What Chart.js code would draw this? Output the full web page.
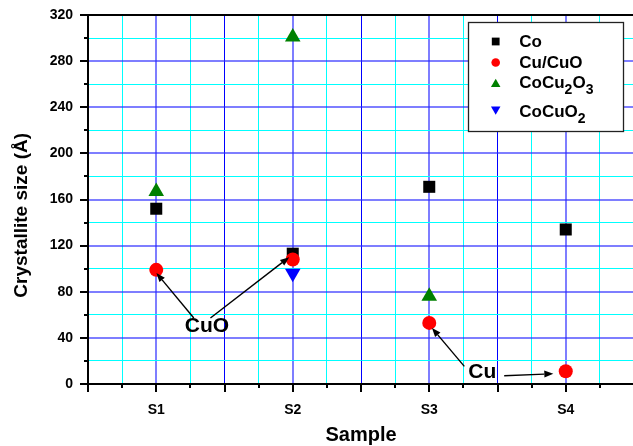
<!DOCTYPE html>
<html>
<head>
<meta charset="utf-8">
<script src="https://cdn.jsdelivr.net/npm/chart.js@4.4.0/dist/chart.umd.min.js"></script>
<style>
  html, body { margin: 0; padding: 0; background: #fff; overflow: hidden; }
  #wrap { width: 633px; height: 446px; overflow: hidden; }
  canvas { display: block; }
</style>
</head>
<body>
<div id="wrap"><canvas id="c" width="643" height="446"></canvas></div>
<script>
// ---- data ----
const samples = ['S1', 'S2', 'S3', 'S4'];
const seriesNames = ['Co', 'Cu/CuO', 'CoCu2O3', 'CoCuO2'];
const coValues      = [152, 113, 171, 134];
const cuCuOValues   = [99, 108, 53, 11];
const coCu2O3Values = [167, 301, 76, null];
const coCuO2Values  = [null, 96, null, null];
const yTickLabels = [0, 40, 80, 120, 160, 200, 240, 280, 320];
const xAxisTitle = 'Sample';
const yAxisTitle = 'Crystallite size (Å)';
// annotations (data units)
const noteTexts = ['CuO', 'Cu'];
const noteX = [1.372, 3.388];
const noteY = [49.7, 10];
const arrowFromX = [1.275, 1.397, 3.257, 3.549];
const arrowFromY = [57.2, 57.2, 15.3, 7.2];
const arrowToX   = [1.001, 1.974, 3.020, 3.909];
const arrowToY   = [96.3, 110, 48.6, 8.9];

const FONT = '"Liberation Sans", Arial, sans-serif';

function toPoints(vals) {
  const out = [];
  vals.forEach((v, i) => { if (v !== null) out.push({ x: i + 1, y: v }); });
  return out;
}

const styles = [
  { color: '#000000', pointStyle: 'rect', radius: 8.5, rotation: 0, legendR: 5.5 },
  { color: '#ff0000', pointStyle: 'circle', radius: 7, rotation: 0, legendR: 4.3 },
  { color: '#008000', pointStyle: 'triangle', radius: 9, rotation: 0, legendR: 5.5 },
  { color: '#0000ff', pointStyle: 'triangle', radius: 9, rotation: 180, legendR: 5.5 }
];
const allValues = [coValues, cuCuOValues, coCu2O3Values, coCuO2Values];

const datasets = allValues.map((vals, i) => ({
  label: seriesNames[i],
  data: toPoints(vals),
  pointStyle: styles[i].pointStyle,
  pointRadius: styles[i].radius,
  pointHoverRadius: styles[i].radius,
  pointRotation: styles[i].rotation,
  backgroundColor: styles[i].color,
  borderColor: styles[i].color,
  borderWidth: 0,
  showLine: false,
  order: 4 - i
}));

function drawFormula(ctx, text, x, y, size) {
  // digits rendered as subscripts
  let cx = x;
  for (const ch of text) {
    if (/[0-9]/.test(ch)) {
      ctx.font = 'bold ' + Math.round(size * 0.8) + 'px ' + FONT;
      ctx.fillText(ch, cx, y + size * 0.36);
    } else {
      ctx.font = 'bold ' + size + 'px ' + FONT;
      ctx.fillText(ch, cx, y);
    }
    cx += ctx.measureText(ch).width;
  }
}

const extrasPlugin = {
  id: 'extras',
  afterDatasetsDraw(chart) {
    const ctx = chart.ctx;
    const xs = chart.scales.x, ys = chart.scales.y;
    ctx.save();
    // arrows
    ctx.strokeStyle = '#000';
    ctx.fillStyle = '#000';
    ctx.lineWidth = 1.4;
    for (let i = 0; i < arrowFromX.length; i++) {
      const x1 = xs.getPixelForValue(arrowFromX[i]), y1 = ys.getPixelForValue(arrowFromY[i]);
      const x2 = xs.getPixelForValue(arrowToX[i]), y2 = ys.getPixelForValue(arrowToY[i]);
      const ang = Math.atan2(y2 - y1, x2 - x1);
      const hl = 9, hw = 3.5;
      const bx = x2 - Math.cos(ang) * hl, by = y2 - Math.sin(ang) * hl;
      ctx.beginPath();
      ctx.moveTo(x1, y1);
      ctx.lineTo(bx, by);
      ctx.stroke();
      ctx.beginPath();
      ctx.moveTo(x2, y2);
      ctx.lineTo(bx + Math.sin(ang) * hw, by - Math.cos(ang) * hw);
      ctx.lineTo(bx - Math.sin(ang) * hw, by + Math.cos(ang) * hw);
      ctx.closePath();
      ctx.fill();
    }
    // annotation texts
    ctx.font = 'bold 21px ' + FONT;
    ctx.textAlign = 'center';
    ctx.textBaseline = 'middle';
    for (let i = 0; i < noteTexts.length; i++) {
      ctx.fillText(noteTexts[i], xs.getPixelForValue(noteX[i]), ys.getPixelForValue(noteY[i]));
    }
    ctx.restore();
  },
  afterDraw(chart) {
    const ctx = chart.ctx;
    const a = chart.chartArea;
    const xs = chart.scales.x, ys = chart.scales.y;
    ctx.save();
    ctx.strokeStyle = '#000';
    // top border
    ctx.lineWidth = 2;
    ctx.beginPath();
    ctx.moveTo(a.left - 1, a.top);
    ctx.lineTo(a.right + 2, a.top);
    ctx.stroke();
    // y ticks
    ctx.lineWidth = 2;
    ys.ticks.forEach(t => {
      const y = Math.round(ys.getPixelForValue(t.value));
      const len = (t.value % 40 === 0) ? 8 : 4;
      ctx.beginPath();
      ctx.moveTo(a.left, y);
      ctx.lineTo(a.left - len, y);
      ctx.stroke();
    });
    // x ticks
    xs.ticks.forEach(t => {
      const x = Math.round(xs.getPixelForValue(t.value));
      const major = Math.abs(t.value * 2 - Math.round(t.value * 2)) < 1e-6;
      const len = major ? 8 : 4;
      ctx.beginPath();
      ctx.moveTo(x, a.bottom);
      ctx.lineTo(x, a.bottom + len);
      ctx.stroke();
    });
    // legend
    const lx = 468, ly = 22, lw = 155, lh = 109;
    ctx.fillStyle = '#fff';
    ctx.fillRect(lx, ly, lw, lh);
    ctx.lineWidth = 1.3;
    ctx.strokeStyle = '#222';
    ctx.strokeRect(lx + 0.5, ly + 0.5, lw, lh);
    const rowMarkerY = [41.5, 62.5, 83, 110.5];
    const rowBase = [46.7, 67.7, 88.3, 117.3];
    for (let i = 0; i < seriesNames.length; i++) {
      ctx.fillStyle = styles[i].color;
      ctx.strokeStyle = styles[i].color;
      Chart.helpers.drawPoint(ctx, {
        pointStyle: styles[i].pointStyle,
        rotation: styles[i].rotation,
        radius: styles[i].legendR,
        borderWidth: 0
      }, 495.7, rowMarkerY[i] + (styles[i].pointStyle === 'triangle' ? (styles[i].rotation ? -1.3 : 1.3) : 0));
      ctx.fillStyle = '#000';
      ctx.textAlign = 'left';
      ctx.textBaseline = 'alphabetic';
      drawFormula(ctx, seriesNames[i], 519.3, rowBase[i], 17);
    }
    ctx.restore();
  }
};

const PERI = 'rgba(40,40,255,0.6)';
const CYAN = '#00ffff';

new Chart(document.getElementById('c'), {
  type: 'scatter',
  data: { datasets },
  plugins: [extrasPlugin],
  options: {
    responsive: false,
    animation: false,
    events: [],
    layout: { padding: { left: 0, right: 2, top: 15, bottom: 0 } },
    plugins: { legend: { display: false }, tooltip: { enabled: false } },
    scales: {
      x: {
        type: 'linear',
        min: 0.5, max: 4.5,
        afterFit: s => { s.height = 62; s.paddingLeft = 0; s.paddingRight = 0; },
        afterBuildTicks: s => {
          const t = [];
          for (let v = 0.5; v <= 4.5001; v += 0.25) t.push({ value: Math.round(v * 100) / 100 });
          s.ticks = t;
        },
        ticks: {
          autoSkip: false,
          maxRotation: 0,
          padding: 18,
          color: '#000',
          font: { family: FONT, size: 14, weight: 'bold' },
          callback: v => (Number.isInteger(v) && v >= 1 && v <= samples.length) ? samples[v - 1] : ''
        },
        grid: {
          drawTicks: false,
          color: c => {
            const v = c.tick.value;
            if (Number.isInteger(v)) return PERI;
            if (Math.abs(v * 2 - Math.round(v * 2)) < 1e-6) return '#0000ff';
            return CYAN;
          },
          lineWidth: c => Number.isInteger(c.tick.value) ? 2 : 1
        },
        border: { display: true, color: '#000', width: 2 },
        title: {
          display: true, text: xAxisTitle, color: '#000',
          font: { family: FONT, size: 20, weight: 'bold', lineHeight: 1.05 },
          padding: { top: 0, bottom: 0 }
        }
      },
      y: {
        min: 0, max: 320,
        afterFit: s => { s.width = 88; s.paddingTop = 0; s.paddingBottom = 0; },
        afterBuildTicks: s => {
          const t = [];
          for (let v = 0; v <= 320; v += 20) t.push({ value: v });
          s.ticks = t;
        },
        ticks: {
          autoSkip: false,
          padding: 15,
          color: '#000',
          font: { family: FONT, size: 14, weight: 'bold' },
          callback: v => yTickLabels.includes(v) ? String(v) : ''
        },
        grid: {
          drawTicks: false,
          color: c => (c.tick.value % 40 === 0) ? PERI : CYAN,
          lineWidth: c => (c.tick.value % 40 === 0) ? 2 : 1
        },
        border: { display: true, color: '#000', width: 2 },
        title: {
          display: true, text: yAxisTitle + '\u00a0\u00a0\u00a0\u00a0\u00a0\u00a0', color: '#000',
          font: { family: FONT, size: 19, weight: 'bold' },
          padding: { top: 10, bottom: 0 }
        }
      }
    }
  }
});
</script>
</body>
</html>
